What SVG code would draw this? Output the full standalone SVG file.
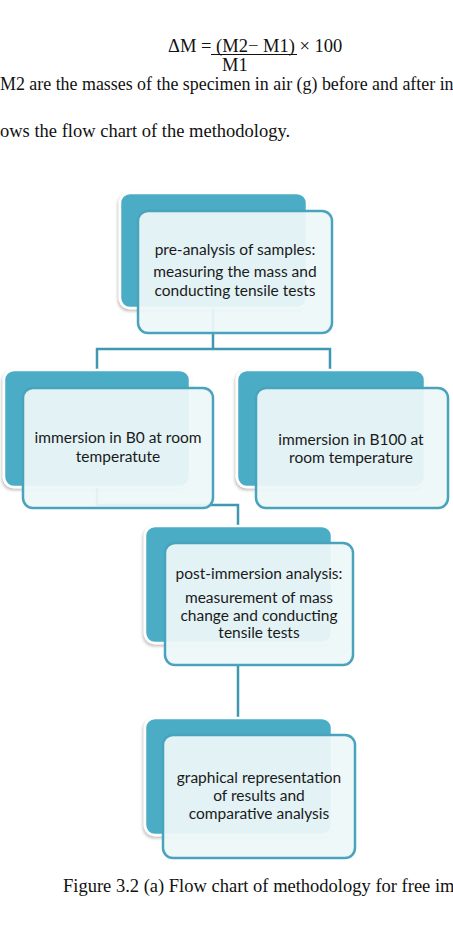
<svg xmlns="http://www.w3.org/2000/svg" width="453" height="930" viewBox="0 0 453 930">
<defs>
<filter id="sh" x="-10%" y="-10%" width="120%" height="120%">
<feDropShadow dx="-1" dy="2" stdDeviation="1.5" flood-color="#000" flood-opacity="0.25"/>
</filter>
</defs>
<style>
.page{font-family:"Liberation Serif","Times New Roman",serif;font-size:18.5px;fill:#111}
.back{fill:#4bacc6;stroke:#fff;stroke-width:2.5;filter:url(#sh)}
.front{fill:#eef7f9;fill-opacity:0.93;stroke:#4aa3bd;stroke-width:2.5}
.lbl{font-family:Lato,"Noto Sans",sans-serif;font-size:15.5px;fill:#1a1a1a;text-anchor:middle}
.con{fill:none;stroke:#3f97b1;stroke-width:2.5}
</style>
<rect width="453" height="930" fill="#fff"/>
<g id="text-top" class="page">
<text x="168" y="52">ΔM = (M2− M1) × 100</text>
<line x1="211" y1="54.5" x2="297" y2="54.5" stroke="#111" stroke-width="1"/>
<text x="222" y="71">M1</text>
<text x="0" y="90" font-size="17.9">M2 are the masses of the specimen in air (g) before and after in</text>
<text x="0" y="137">ows the flow chart of the methodology.</text>
</g>
<g id="connectors">
<path class="con" d="M213,308 V349 M97,370 V349 H330 V370"/>
<path class="con" d="M97,487 V505 H238 V526"/>
<path class="con" d="M238,665 V718"/>
</g>
<g id="node-pre">
<rect class="back" x="120" y="193" width="187" height="115" rx="10"/>
<rect class="front" x="138" y="211" width="194" height="122" rx="10"/>
<text class="lbl" x="235" y="255">pre-analysis of samples:</text>
<text class="lbl" x="235" y="277">measuring the mass and</text>
<text class="lbl" x="235" y="296">conducting tensile tests</text>
</g>
<g id="node-b0">
<rect class="back" x="4" y="370" width="186" height="117" rx="10"/>
<rect class="front" x="23" y="388" width="190" height="120" rx="10"/>
<text class="lbl" x="118" y="443">immersion in B0 at room</text>
<text class="lbl" x="118" y="462">temperatute</text>
</g>
<g id="node-b100">
<rect class="back" x="237" y="370" width="188" height="117" rx="10"/>
<rect class="front" x="256" y="388" width="192" height="120" rx="10"/>
<text class="lbl" x="351" y="445">immersion in B100 at</text>
<text class="lbl" x="351" y="463">room temperature</text>
</g>
<g id="node-post">
<rect class="back" x="145" y="526" width="187" height="117" rx="10"/>
<rect class="front" x="165" y="543" width="188" height="122" rx="10"/>
<text class="lbl" x="259" y="579">post-immersion analysis:</text>
<text class="lbl" x="259" y="603">measurement of mass</text>
<text class="lbl" x="259" y="621">change and conducting</text>
<text class="lbl" x="259" y="638">tensile tests</text>
</g>
<g id="node-graph">
<rect class="back" x="145" y="718" width="187" height="117" rx="10"/>
<rect class="front" x="163" y="735" width="192" height="123" rx="10"/>
<text class="lbl" x="259" y="783">graphical representation</text>
<text class="lbl" x="259" y="801">of results and</text>
<text class="lbl" x="259" y="819">comparative analysis</text>
</g>
<g id="caption" class="page">
<text x="63" y="892">Figure 3.2 (a) Flow chart of methodology for free imm</text>
</g>
</svg>
